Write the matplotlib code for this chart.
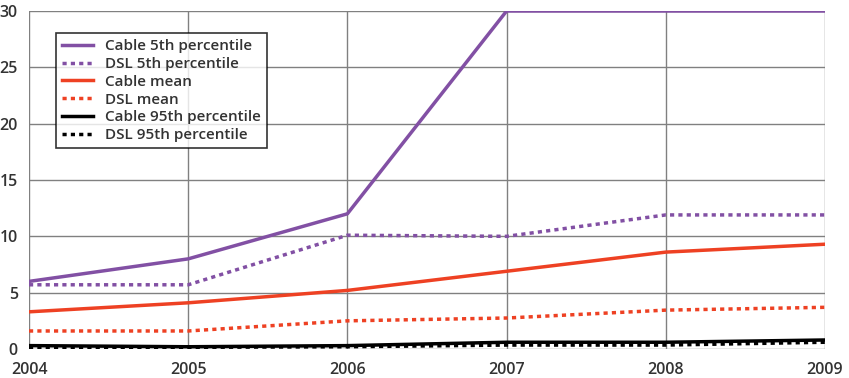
import matplotlib
matplotlib.use("Agg")
import matplotlib.pyplot as plt

years = [2004, 2005, 2006, 2007, 2008, 2009]
cable_p5 = [6.0, 8.0, 12.0, 30.0, 30.0, 30.0]
dsl_p5 = [5.7, 5.7, 10.1, 10.0, 11.9, 11.9]
cable_mean = [3.3, 4.1, 5.2, 6.9, 8.6, 9.3]
dsl_mean = [1.6, 1.6, 2.5, 2.75, 3.45, 3.7]
cable_p95 = [0.3, 0.2, 0.3, 0.6, 0.6, 0.8]
dsl_p95 = [0.15, 0.15, 0.2, 0.35, 0.35, 0.6]

purple = "#8250a4"
red = "#ee4123"
text_col = "#333333"

plt.rcParams['font.family'] = ['Open Sans', 'DejaVu Sans']

fig = plt.figure(figsize=(8.49, 3.78), dpi=100)
ax = fig.add_axes([29/849, 1 - 349/378, (825-29)/849, (349-11)/378])

ax.plot(years, cable_p5, color=purple, lw=2.5, label="Cable 5th percentile")
ax.plot(years, dsl_p5, color=purple, lw=2.5, ls=(0, (1.2, 1.2)), label="DSL 5th percentile")
ax.plot(years, cable_mean, color=red, lw=2.5, label="Cable mean")
ax.plot(years, dsl_mean, color=red, lw=2.5, ls=(0, (1.2, 1.2)), label="DSL mean")
ax.plot(years, cable_p95, color="black", lw=2.5, label="Cable 95th percentile")
ax.plot(years, dsl_p95, color="black", lw=2.5, ls=(0, (1.2, 1.2)), label="DSL 95th percentile")

ax.set_xlim(2004, 2009)
ax.set_ylim(0, 30)
ax.set_xticks(years)
ax.set_yticks(range(0, 31, 5))
ax.grid(True, color="#808080", lw=1)
ax.set_axisbelow(True)
for s in ax.spines.values():
    s.set_visible(False)
ax.tick_params(length=0, labelsize=11.5, colors=text_col)
ax.tick_params(axis='x', pad=9)
ax.tick_params(axis='y', pad=8)
for lab in ax.get_xticklabels() + ax.get_yticklabels():
    lab.set_fontweight('semibold')

leg = ax.legend(loc="upper left", bbox_to_anchor=(27/796, 1 - 22/338), frameon=True,
                fancybox=False, edgecolor="black", fontsize=11, handlelength=2.0,
                borderpad=0.4, labelspacing=0.25, handletextpad=0.8, borderaxespad=0)
leg.get_frame().set_linewidth(1.2)
for t in leg.get_texts():
    t.set_color(text_col)
    t.set_fontweight('semibold')

fig.savefig("out.png", dpi=100)
